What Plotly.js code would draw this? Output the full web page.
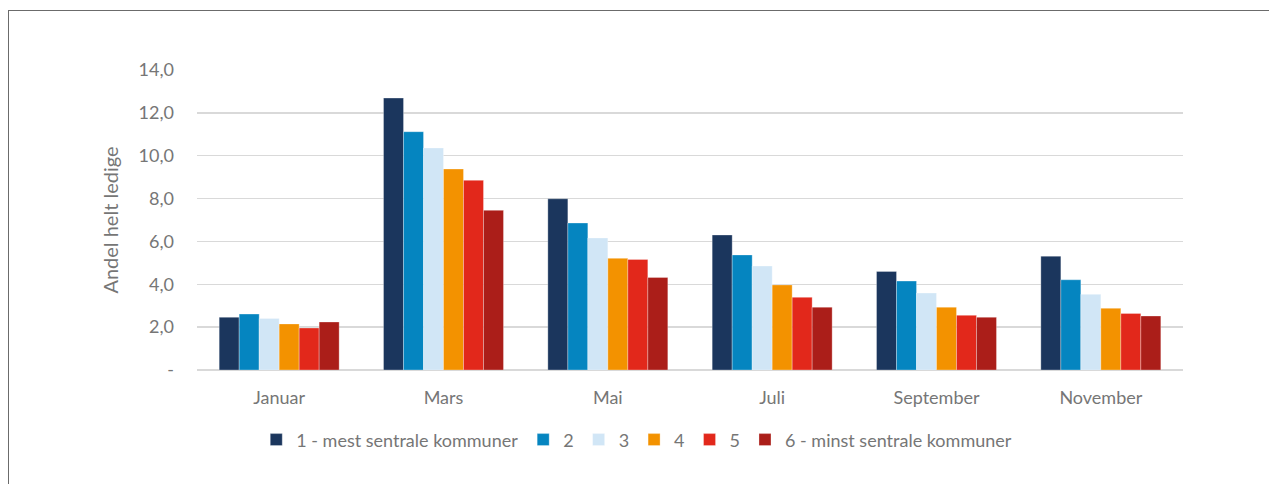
<!DOCTYPE html>
<html>
<head>
<meta charset="utf-8">
<script src="https://cdn.plot.ly/plotly-3.0.1.min.js"></script>
<style>
  html, body { margin: 0; padding: 0; background: #fff; }
  #wrap { position: relative; width: 1269px; height: 484px; }
  #chart { width: 1269px; height: 484px; }
  #frame { position: absolute; left: 8px; top: 10px; right: 0; bottom: 0;
           border-left: 1.5px solid #6b6b6b; border-top: 1.5px solid #6b6b6b; pointer-events: none; }
</style>
</head>
<body>
<div id="wrap">
  <div id="chart"></div>
  <div id="frame"></div>
</div>
<script>
const months = ["Januar", "Mars", "Mai", "Juli", "September", "November"];
const seriesNames = ["1 - mest sentrale kommuner", "2", "3", "4", "5", "6 - minst sentrale kommuner"];
const s1 = [2.46, 12.69, 7.99, 6.30, 4.60, 5.31];
const s2 = [2.61, 11.12, 6.86, 5.37, 4.15, 4.21];
const s3 = [2.40, 10.36, 6.16, 4.85, 3.59, 3.53];
const s4 = [2.15, 9.38, 5.21, 3.97, 2.93, 2.88];
const s5 = [1.96, 8.85, 5.16, 3.39, 2.55, 2.64];
const s6 = [2.24, 7.45, 4.32, 2.93, 2.46, 2.52];
const colors = ["#1b365d", "#0585c0", "#d1e6f6", "#f39200", "#e2281b", "#ab1e19"];
const tickVals = [0, 2, 4, 6, 8, 10, 12, 14];
const tickText = ["-", "2,0", "4,0", "6,0", "8,0", "10,0", "12,0", "14,0"];

const allSeries = [s1, s2, s3, s4, s5, s6];
const traces = allSeries.map((vals, i) => ({
  type: "bar",
  name: seriesNames[i],
  x: months,
  y: vals,
  marker: { color: colors[i], line: { color: "rgba(255,255,255,0.6)", width: 0.5 } },
  hoverinfo: "x+y+name"
}));

const fam = "Lato, 'Open Sans', sans-serif";
const txt = "#767676";

const layout = {
  width: 1269,
  height: 484,
  margin: { l: 197, r: 86, t: 70, b: 114 },
  paper_bgcolor: "#ffffff",
  plot_bgcolor: "#ffffff",
  barmode: "group",
  bargap: 0.27,
  bargroupgap: 0,
  showlegend: true,
  font: { family: fam, color: txt, size: 18 },
  xaxis: {
    type: "category",
    showgrid: false,
    showline: false,
    zeroline: false,
    ticks: "",
    ticklabelstandoff: 15,
    tickfont: { family: fam, color: txt, size: 18 }
  },
  yaxis: {
    range: [0, 14],
    tickvals: tickVals,
    ticktext: tickText,
    showgrid: true,
    gridcolor: "#d9d9d9",
    gridwidth: 1.5,
    zeroline: true,
    zerolinecolor: "#d9d9d9",
    zerolinewidth: 1.5,
    ticks: "",
    ticklabelstandoff: 22,
    tickfont: { family: fam, color: txt, size: 18 },
    title: { text: "Andel helt ledige", font: { family: fam, color: txt, size: 20 }, standoff: 14 }
  },
  legend: {
    orientation: "h",
    x: 0.446, xanchor: "center",
    y: -0.233, yanchor: "middle",
    font: { family: fam, color: txt, size: 18 },
    itemwidth: 30,
    traceorder: "normal"
  }
};

Plotly.newPlot("chart", traces, layout, { displayModeBar: false, staticPlot: true });
</script>
</body>
</html>
